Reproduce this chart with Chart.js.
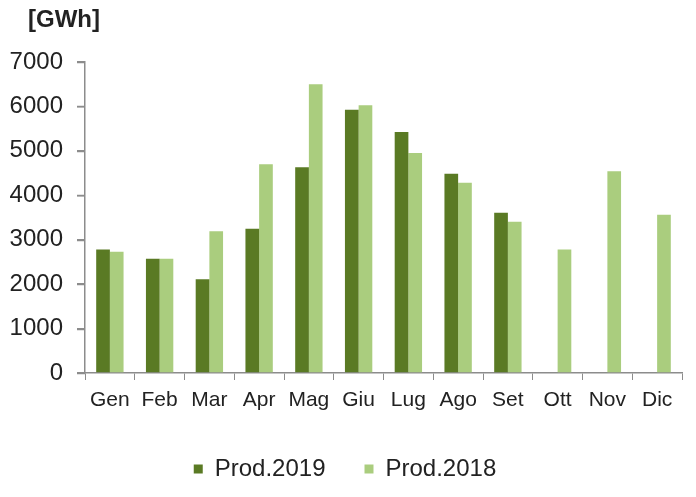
<!DOCTYPE html>
<html>
<head>
<meta charset="utf-8">
<script src="https://cdn.jsdelivr.net/npm/chart.js@4/dist/chart.umd.min.js"></script>
<style>
  html, body { margin: 0; padding: 0; background: #fff; }
  #wrap { width: 696px; height: 497px; }
</style>
</head>
<body>
<div id="wrap"><canvas id="prodChart" width="696" height="497"></canvas></div>
<script>
const mesi = ['Gen', 'Feb', 'Mar', 'Apr', 'Mag', 'Giu', 'Lug', 'Ago', 'Set', 'Ott', 'Nov', 'Dic']
const prod2019 = [2780, 2570, 2110, 3245, 4630, 5925, 5425, 4485, 3605, null, null, null]
const prod2018 = [2730, 2570, 3190, 4700, 6500, 6025, 4950, 4280, 3405, 2780, 4540, 3560]
const unita = '[GWh]'

const famiglia = '"Liberation Sans", Arial, sans-serif'
const font = { family: famiglia, size: 24 }
const assi = '#8c8c8c'

// unita di misura in alto a sinistra + tacche dell'asse y
const unitaPlugin = {
    id: 'unita',
    afterDraw(chart) {
        const ctx = chart.ctx
        const y = chart.scales.y
        ctx.save()
        ctx.strokeStyle = assi
        ctx.lineWidth = 1.5
        y.ticks.forEach(t => {
            const py = Math.round(y.getPixelForValue(t.value)) + 0.5
            ctx.beginPath()
            ctx.moveTo(y.right - 8, py)
            ctx.lineTo(y.right, py)
            ctx.stroke()
        })
        ctx.font = 'bold 24px ' + famiglia
        ctx.fillStyle = '#222'
        ctx.textBaseline = 'middle'
        ctx.fillText(unita, 28, 20)
        ctx.restore()
    }
}

const data = {
    labels: mesi,
    datasets: [
        {
            label: 'Prod.2019',
            backgroundColor: 'rgb(90, 122, 36)',
            data: prod2019
        },
        {
            label: 'Prod.2018',
            backgroundColor: 'rgb(170, 205, 126)',
            data: prod2018
        }
    ]
}

const config = {
    type: 'bar',
    data: data,
    plugins: [unitaPlugin],
    options: {
        responsive: false,
        animation: false,
        layout: { padding: { left: 8, right: 14, top: 62, bottom: 6 } },
        datasets: { bar: { categoryPercentage: 0.55, barPercentage: 1.0 } },
        scales: {
            x: {
                border: { color: assi, width: 1.5 },
                grid: { drawOnChartArea: false, color: assi, tickLength: 7, offset: true },
                ticks: {
                    color: '#222',
                    font: { family: famiglia, size: 21 },
                    padding: 8,
                    maxRotation: 0,
                    autoSkip: false
                },
                afterFit: s => { s.height = 45 }
            },
            y: {
                min: 0,
                max: 7000,
                border: { color: assi, width: 1.5 },
                grid: { drawOnChartArea: false, color: assi, tickLength: 8, lineWidth: 1.5 },
                ticks: {
                    stepSize: 1000,
                    color: '#222',
                    font: font,
                    padding: 14,
                    callback: v => String(v)
                },
                afterFit: s => { s.width = 77 }
            }
        },
        plugins: {
            legend: {
                position: 'bottom',
                labels: {
                    color: '#222',
                    font: font,
                    boxWidth: 9,
                    boxHeight: 9,
                    padding: 39
                }
            },
            tooltip: { enabled: false }
        }
    }
}

new Chart(
    document.getElementById('prodChart').getContext('2d'),
    config
)
</script>
</body>
</html>
